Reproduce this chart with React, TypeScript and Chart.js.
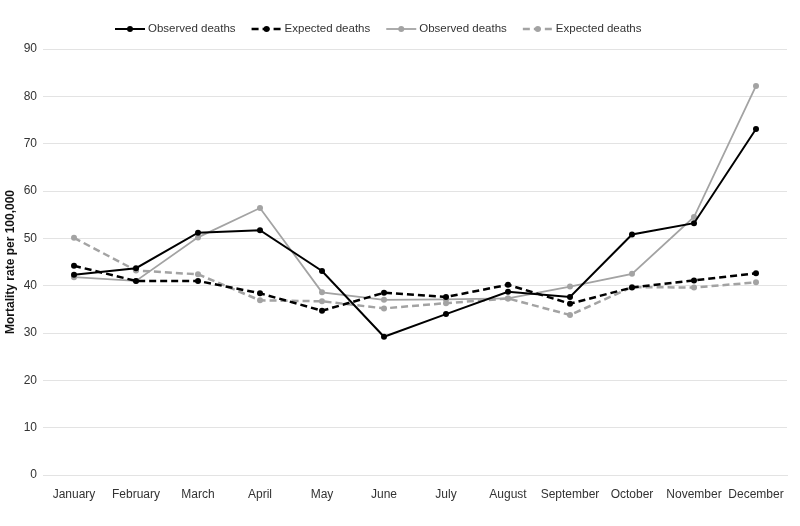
import React, { useEffect, useRef } from "react";
import { Chart, registerables } from "chart.js";

Chart.register(...registerables);

const months = ["January", "February", "March", "April", "May", "June", "July", "August", "September", "October", "November", "December"];
const observedA = [42.3, 43.7, 51.2, 51.7, 43.1, 29.2, 34.0, 38.7, 37.6, 50.8, 53.2, 73.1];
const expectedA = [44.2, 41.0, 41.0, 38.4, 34.7, 38.5, 37.6, 40.2, 36.2, 39.6, 41.1, 42.6];
const observedB = [41.8, 41.0, 50.2, 56.4, 38.6, 37.0, 37.1, 37.3, 39.8, 42.5, 54.5, 82.2];
const expectedB = [50.1, 43.2, 42.4, 36.9, 36.7, 35.2, 36.3, 37.3, 33.8, 39.7, 39.6, 40.7];
const seriesLabels = ["Observed deaths", "Expected deaths", "Observed deaths", "Expected deaths"];

const BLACK = "#000000";
const GRAY = "#a3a3a3";
const FONT = "'Liberation Sans', Arial, sans-serif";

const legendPlugin = {
  id: "customLegend",
  afterDraw(chart: any) {
    const ctx = chart.ctx;
    ctx.save();
    ctx.font = `11.5px ${FONT}`;
    ctx.textBaseline = "middle";
    let x = 115;
    const y = 29;
    chart.data.datasets.forEach((ds: any) => {
      ctx.strokeStyle = ds.borderColor;
      ctx.lineWidth = ds.borderWidth;
      ctx.setLineDash(ds.borderDash || []);
      ctx.beginPath();
      ctx.moveTo(x, y);
      ctx.lineTo(x + 30, y);
      ctx.stroke();
      ctx.setLineDash([]);
      ctx.fillStyle = ds.pointBackgroundColor;
      ctx.beginPath();
      ctx.arc(x + 15, y, 3, 0, Math.PI * 2);
      ctx.fill();
      ctx.fillStyle = "#333";
      ctx.fillText(ds.label, x + 33, y);
      x += 33 + ctx.measureText(ds.label).width + 16;
    });
    ctx.restore();
  },
};

export default function App() {
  const ref = useRef<HTMLCanvasElement>(null);
  useEffect(() => {
    document.body.style.margin = "0";
    const mk = (label: string, data: number[], color: string, dashed: boolean, width: number) => ({
      label,
      data,
      borderColor: color,
      backgroundColor: color,
      pointBackgroundColor: color,
      pointBorderColor: color,
      borderWidth: width,
      borderDash: dashed ? [7, 4] : [],
      pointRadius: 3,
      pointBorderWidth: 0,
      tension: 0,
      fill: false,
    });
    const chart = new Chart(ref.current!, {
      type: "line",
      data: {
        labels: months,
        datasets: [
          mk(seriesLabels[0], observedA, BLACK, false, 2),
          mk(seriesLabels[1], expectedA, BLACK, true, 2.5),
          mk(seriesLabels[2], observedB, GRAY, false, 1.8),
          mk(seriesLabels[3], expectedB, GRAY, true, 2.5),
        ],
      },
      options: {
        animation: false,
        responsive: false,
        layout: { padding: { top: 49, right: 13, left: 0, bottom: 0 } },
        plugins: { legend: { display: false }, tooltip: { enabled: false } },
        scales: {
          x: {
            offset: true,
            grid: { display: false, drawTicks: false },
            border: { display: true, color: "#e3e3e3", width: 1 },
            ticks: { color: "#333", font: { family: FONT, size: 12 }, padding: 12, maxRotation: 0, autoSkip: false },
            afterFit: (s: any) => { s.height = 51; },
          },
          y: {
            min: 0,
            max: 90,
            ticks: { stepSize: 10, color: "#333", font: { family: FONT, size: 12 }, padding: 6 },
            grid: { color: "#e3e3e3", drawTicks: false, lineWidth: 1 },
            border: { display: false },
            title: { display: true, text: "Mortality rate per 100,000", color: "#111", font: { family: FONT, size: 12, weight: "bold" }, padding: { top: 3, bottom: 0 } },
            afterFit: (s: any) => { s.width = 43; },
          },
        },
      },
      plugins: [legendPlugin],
    });
    return () => chart.destroy();
  }, []);
  return (
    <div style={{ position: "absolute", left: 0, top: 0, width: 800, height: 526, background: "#fff" }}>
      <canvas ref={ref} width={800} height={526} style={{ display: "block" }} />
    </div>
  );
}
